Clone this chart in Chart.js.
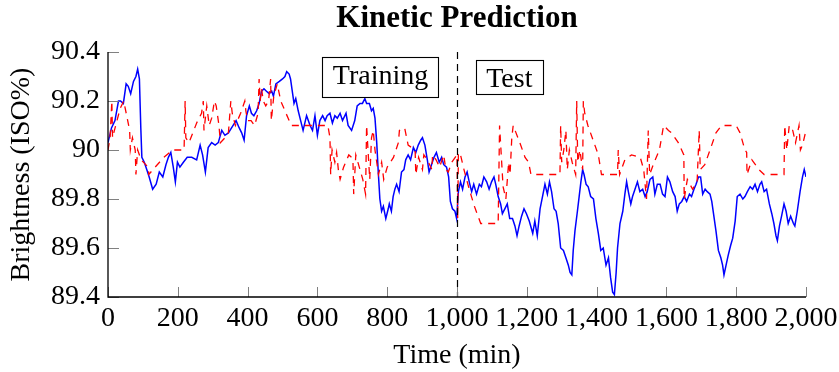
<!DOCTYPE html>
<html>
<head>
<meta charset="utf-8">
<title>Kinetic Prediction</title>
<script src="https://cdn.jsdelivr.net/npm/chart.js@4.4.1/dist/chart.umd.min.js"></script>
<style>
  html, body { margin: 0; padding: 0; background: #fff; }
  #chart-container { width: 839px; height: 372px; }
</style>
</head>
<body>
<div id="chart-container"><canvas id="mycanvas" width="839" height="372"></canvas></div>
<script>
// measured brightness (min, ISO%)
var measuredTime = [
  0, 10, 20, 30, 36, 44, 52, 58, 65, 73, 80, 85, 90, 94, 97, 104, 111, 118, 128, 138,
  147, 157, 166, 173, 180, 187, 193, 199, 206, 216, 227, 240, 254, 264, 271, 279, 287, 297, 307, 316,
  326, 335, 345, 354, 367, 376, 383, 390, 397, 405, 411, 418, 426, 433, 440, 447, 454, 462, 469, 474,
  481, 491, 500, 507, 512, 519, 523, 529, 533, 538, 545, 552, 559, 569, 579, 586, 593, 600, 607, 615,
  622, 628, 636, 643, 650, 657, 665, 672, 682, 688, 698, 707, 714, 722, 729, 736, 741, 749, 755, 760,
  765, 770, 774, 779, 784, 789, 796, 803, 806, 812, 817, 822, 827, 834, 841, 848, 853, 860, 867, 875,
  882, 889, 896, 901, 908, 915, 920, 927, 934, 941, 949, 956, 962, 970, 976, 981, 987, 994, 999, 1004,
  1010, 1016, 1023, 1029, 1035, 1042, 1048, 1056, 1064, 1070, 1077, 1085, 1092, 1099, 1106, 1111, 1118, 1125, 1130, 1137,
  1144, 1151, 1159, 1166, 1172, 1178, 1185, 1192, 1199, 1207, 1217, 1223, 1230, 1238, 1245, 1252, 1259, 1265, 1271, 1278,
  1284, 1290, 1297, 1305, 1312, 1319, 1324, 1329, 1333, 1338, 1345, 1350, 1355, 1360, 1364, 1370, 1376, 1383, 1391, 1398,
  1405, 1412, 1419, 1427, 1434, 1440, 1446, 1451, 1456, 1460, 1467, 1475, 1481, 1486, 1491, 1498, 1503, 1510, 1517, 1524,
  1532, 1539, 1545, 1553, 1561, 1567, 1574, 1582, 1589, 1596, 1603, 1610, 1618, 1625, 1631, 1637, 1644, 1651, 1658, 1666,
  1672, 1679, 1685, 1692, 1698, 1704, 1711, 1717, 1725, 1730, 1735, 1742, 1749, 1756, 1761, 1765, 1771, 1777, 1784, 1790,
  1797, 1803, 1811, 1819, 1825, 1832, 1840, 1847, 1854, 1861, 1868, 1873, 1880, 1887, 1895, 1902, 1908, 1914, 1918, 1924,
  1930, 1937, 1943, 1949, 1956, 1964, 1968, 1975, 1983, 1990, 1995, 2000
];
var measuredValue = [
  90.03, 90.09, 90.12, 90.2, 90.2, 90.19, 90.27, 90.26, 90.23, 90.28, 90.3, 90.33, 90.29, 90.09, 89.97, 89.95, 89.92, 89.89, 89.84, 89.86,
  89.91, 89.89, 89.94, 89.97, 89.99, 89.93, 89.87, 89.95, 89.93, 89.95, 89.97, 89.97, 89.96, 90.02, 89.98, 89.91, 90.01, 90.03, 90.02, 90.03,
  90.08, 90.06, 90.07, 90.09, 90.12, 90.09, 90.07, 90.04, 90.14, 90.18, 90.15, 90.14, 90.16, 90.19, 90.24, 90.25, 90.24, 90.23, 90.24, 90.22,
  90.27, 90.28, 90.29, 90.3, 90.32, 90.31, 90.29, 90.23, 90.19, 90.21, 90.16, 90.12, 90.08, 90.14, 90.1, 90.08, 90.14, 90.06, 90.12, 90.14,
  90.12, 90.14, 90.15, 90.11, 90.14, 90.13, 90.15, 90.12, 90.15, 90.1, 90.08, 90.12, 90.18, 90.19, 90.19, 90.21, 90.19, 90.19, 90.16, 90.17,
  90.13, 90.03, 89.92, 89.8, 89.75, 89.77, 89.72, 89.76, 89.78, 89.75, 89.81, 89.84, 89.86, 89.83, 89.91, 89.92, 89.96, 89.98, 89.96, 90.01,
  89.99, 90.02, 90.04, 90.05, 90.02, 89.96, 89.91, 89.94, 89.97, 89.99, 89.95, 89.97, 89.94, 89.93, 89.89, 89.79, 89.76, 89.75, 89.72, 89.83,
  89.87, 89.84, 89.89, 89.91, 89.87, 89.83, 89.86, 89.82, 89.86, 89.85, 89.89, 89.87, 89.84, 89.87, 89.89, 89.86, 89.81, 89.78, 89.74, 89.76,
  89.78, 89.72, 89.72, 89.69, 89.65, 89.69, 89.73, 89.76, 89.74, 89.71, 89.66, 89.71, 89.65, 89.76, 89.81, 89.86, 89.82, 89.87, 89.83, 89.76,
  89.75, 89.7, 89.6, 89.59, 89.56, 89.53, 89.5, 89.49, 89.59, 89.67, 89.75, 89.81, 89.87, 89.92, 89.9, 89.86, 89.85, 89.81, 89.8, 89.72,
  89.66, 89.59, 89.6, 89.53, 89.56, 89.48, 89.42, 89.41, 89.5, 89.6, 89.7, 89.75, 89.82, 89.87, 89.83, 89.78, 89.81, 89.84, 89.87, 89.83,
  89.84, 89.81, 89.83, 89.88, 89.89, 89.82, 89.86, 89.86, 89.82, 89.81, 89.89, 89.87, 89.83, 89.81, 89.75, 89.78, 89.79, 89.81, 89.79, 89.82,
  89.81, 89.84, 89.86, 89.89, 89.89, 89.82, 89.84, 89.83, 89.82, 89.79, 89.74, 89.67, 89.59, 89.56, 89.53, 89.49, 89.53, 89.57, 89.61, 89.64,
  89.71, 89.81, 89.82, 89.8, 89.81, 89.83, 89.85, 89.84, 89.86, 89.83, 89.86, 89.87, 89.83, 89.84, 89.78, 89.74, 89.7, 89.65, 89.63, 89.69,
  89.73, 89.78, 89.75, 89.7, 89.73, 89.7, 89.69, 89.75, 89.83, 89.89, 89.92, 89.89
];

// model prediction (min, ISO%)
var predTime = [
  0, 6, 11, 13, 22, 35, 45, 55, 62, 64, 70, 78, 80, 85, 95, 115, 117, 135, 160, 185,
  218, 221, 223, 232, 254, 268, 273, 275, 283, 290, 297, 305, 310, 318, 322, 335, 345, 352, 356, 365,
  380, 392, 395, 400, 410, 420, 430, 433, 436, 440, 445, 452, 460, 466, 468, 475, 485, 495, 510, 525,
  630, 636, 638, 642, 650, 655, 660, 665, 675, 690, 698, 702, 704, 710, 720, 730, 738, 741, 745, 750,
  755, 760, 765, 775, 784, 790, 800, 818, 832, 835, 850, 860, 880, 882, 890, 901, 905, 915, 928, 930,
  940, 950, 962, 968, 975, 985, 1000, 1002, 1004, 1010, 1020, 1035, 1050, 1068, 1118, 1122, 1126, 1132, 1140, 1148,
  1152, 1157, 1161, 1180, 1195, 1205, 1212, 1295, 1297, 1300, 1306, 1312, 1316, 1322, 1330, 1340, 1343, 1346, 1352, 1360,
  1362, 1366, 1375, 1390, 1405, 1414, 1460, 1462, 1466, 1481, 1500, 1525, 1535, 1543, 1548, 1552, 1565, 1580, 1592, 1606,
  1615, 1634, 1650, 1651, 1660, 1675, 1688, 1694, 1697, 1710, 1725, 1742, 1758, 1800, 1811, 1825, 1830, 1831, 1845, 1865,
  1880, 1937, 1939, 1945, 1952, 1962, 1970, 1980, 1984, 1990, 2000
];
var predValue = [
  90.0, 90.05, 90.2, 90.05, 90.1, 90.17, 90.2, 90.13, 90.08, 90.0, 90.05, 90.0, 89.9, 90.0, 89.96, 89.93, 89.9, 89.93, 89.97, 90.0,
  90.0, 90.2, 90.05, 90.03, 90.11, 90.15, 90.2, 90.08, 90.18, 90.1, 90.13, 90.2, 90.18, 90.1, 90.03, 90.05, 90.07, 90.2, 90.15, 90.1,
  90.15, 90.2, 90.16, 90.12, 90.12, 90.1, 90.15, 90.29, 90.2, 90.25, 90.2, 90.18, 90.2, 90.29, 90.12, 90.22, 90.27, 90.2, 90.15, 90.1,
  90.1, 90.05, 89.9, 90.0, 89.95, 89.99, 89.92, 89.88, 89.93, 89.98, 89.97, 89.95, 89.82, 89.98, 89.93, 89.88, 89.82, 90.1, 90.0, 89.88,
  90.05, 90.08, 90.0, 89.9, 89.95, 89.88, 89.93, 89.97, 90.03, 90.08, 90.09, 90.02, 90.0, 89.9, 89.97, 89.92, 89.98, 89.96, 89.92, 89.98,
  89.96, 89.93, 89.98, 89.92, 89.91, 89.95, 89.98, 89.72, 89.99, 89.98, 89.92, 89.84, 89.77, 89.7, 89.7, 90.1, 90.0, 89.85, 89.8, 89.95,
  89.9, 90.05, 90.1, 90.03, 89.97, 89.95, 89.9, 89.9, 90.1, 89.95, 90.0, 90.08, 89.92, 90.0, 89.95, 89.9, 90.2, 89.95, 90.0, 89.92,
  90.2, 90.15, 90.1, 90.04, 89.98, 89.9, 89.9, 90.0, 89.9, 89.96, 89.98, 89.97, 89.92, 89.8, 90.08, 89.9, 89.95, 90.0, 90.1, 90.08,
  90.07, 90.03, 89.98, 89.8, 89.88, 89.84, 89.87, 90.08, 89.92, 89.94, 90.0, 90.07, 90.1, 90.1, 90.07, 90.0, 89.99, 89.9, 89.96, 89.92,
  89.9, 89.9, 90.1, 90.0, 90.1, 90.08, 90.03, 90.1, 90.0, 90.02, 90.08
];

var xTicks = [0, 200, 400, 600, 800, 1000, 1200, 1400, 1600, 1800, 2000];
var yTicks = [89.4, 89.6, 89.8, 90.0, 90.2, 90.4];

var chartTitle = 'Kinetic Prediction';

// phase split and phase labels
var splitTime = 1000;
var phaseNames = ['Training', 'Test'];
var phaseCenterTime = [781, 1150];
var phaseCenterValue = 90.3;

var serif = '"Liberation Serif", "Times New Roman", serif';
Chart.defaults.font.family = serif;
Chart.defaults.font.size = 28;
Chart.defaults.color = '#000';

function toPoints(t, v) {
    var pts = [];
    for (var i = 0; i < t.length; i++) {
        pts.push({x: t[i], y: v[i]});
    }
    return pts;
}

// axis lines, inner ticks, split line, title and the two boxed labels
var decorations = {
    id: 'decorations',
    afterDatasetsDraw: function (chart) {
        var ctx = chart.ctx;
        var area = chart.chartArea;
        var xs = chart.scales.x;
        var ys = chart.scales.y;
        ctx.save();

        var sx = Math.round(xs.getPixelForValue(splitTime)) + 0.5;
        ctx.strokeStyle = '#000';
        ctx.lineWidth = 1.2;
        ctx.setLineDash([7, 5]);
        ctx.beginPath();
        ctx.moveTo(sx, area.top);
        ctx.lineTo(sx, area.bottom);
        ctx.stroke();
        ctx.setLineDash([]);

        ctx.strokeStyle = '#808080';
        ctx.lineWidth = 1;
        ctx.beginPath();
        xTicks.forEach(function (t) {
            var px = Math.round(xs.getPixelForValue(t)) + 0.5;
            ctx.moveTo(px, area.bottom);
            ctx.lineTo(px, area.bottom - 10);
        });
        yTicks.forEach(function (v) {
            var py = Math.round(ys.getPixelForValue(v)) + 0.5;
            ctx.moveTo(area.left, py);
            ctx.lineTo(area.left + 11, py);
        });
        ctx.stroke();

        ctx.strokeStyle = '#000';
        ctx.lineWidth = 1.3;
        ctx.beginPath();
        ctx.moveTo(area.left, area.top);
        ctx.lineTo(area.left, area.bottom);
        ctx.lineTo(area.right, area.bottom);
        ctx.stroke();

        // title centred over the plot area
        ctx.fillStyle = '#000';
        ctx.font = 'bold 31px ' + serif;
        ctx.textAlign = 'center';
        ctx.textBaseline = 'middle';
        ctx.fillText(chartTitle, (area.left + area.right) / 2, 19);

        ctx.font = '28px ' + serif;
        ctx.textBaseline = 'alphabetic';
        ctx.textAlign = 'left';
        for (var i = 0; i < phaseNames.length; i++) {
            var m = ctx.measureText(phaseNames[i]);
            var asc = m.actualBoundingBoxAscent;
            var desc = m.actualBoundingBoxDescent;
            var w = m.width + 21;
            var h = asc + desc + 16;
            var cx = xs.getPixelForValue(phaseCenterTime[i]);
            var cy = ys.getPixelForValue(phaseCenterValue);
            var bx = Math.round(cx - w / 2) + 0.5;
            var by = Math.round(cy - h / 2) + 0.5;
            ctx.fillStyle = '#fff';
            ctx.fillRect(bx, by, Math.round(w), Math.round(h));
            ctx.strokeStyle = '#000';
            ctx.lineWidth = 1.1;
            ctx.strokeRect(bx, by, Math.round(w), Math.round(h));
            ctx.fillStyle = '#000';
            ctx.fillText(phaseNames[i], cx - m.width / 2, by + 8 + asc);
        }
        ctx.restore();
    }
};

var ctx = document.getElementById('mycanvas');

var lineGraph = new Chart(ctx, {
    type: 'line',
    data: {
        datasets: [{
            label: 'Measured',
            data: toPoints(measuredTime, measuredValue),
            borderColor: 'rgb(0, 0, 255)',
            borderWidth: 1.5,
            pointRadius: 0,
            tension: 0,
            order: 2
        }, {
            label: 'Prediction',
            data: toPoints(predTime, predValue),
            borderColor: 'rgb(255, 0, 0)',
            borderWidth: 1.3,
            borderDash: [7, 6],
            pointRadius: 0,
            tension: 0,
            order: 1
        }]
    },
    options: {
        responsive: false,
        animation: false,
        events: [],
        layout: {
            padding: {left: 0, right: 33, top: 52, bottom: 0}
        },
        plugins: {
            legend: {display: false},
            tooltip: {enabled: false},
            title: {display: false}
        },
        scales: {
            x: {
                type: 'linear',
                min: 0,
                max: 2000,
                grid: {display: false, drawTicks: false},
                border: {display: false},
                afterBuildTicks: function (scale) {
                    scale.ticks = xTicks.map(function (t) { return {value: t}; });
                },
                afterFit: function (scale) {
                    scale.height = 75;
                    scale.paddingLeft = 0;
                    scale.paddingRight = 0;
                },
                ticks: {
                    padding: 5,
                    maxRotation: 0,
                    autoSkip: false,
                    callback: function (value) {
                        return Number(value).toLocaleString('en-US');
                    }
                },
                title: {
                    display: true,
                    text: 'Time (min)',
                    padding: {top: 0, bottom: 0}
                }
            },
            y: {
                min: 89.4,
                max: 90.4,
                grid: {display: false, drawTicks: false},
                border: {display: false},
                afterBuildTicks: function (scale) {
                    scale.ticks = yTicks.map(function (v) { return {value: v}; });
                },
                afterFit: function (scale) {
                    scale.width = 108;
                    scale.paddingTop = 0;
                    scale.paddingBottom = 0;
                },
                ticks: {
                    padding: 8,
                    autoSkip: false,
                    callback: function (value) {
                        return String(Math.round(value * 10) / 10);
                    }
                },
                title: {
                    display: true,
                    text: 'Brightness (ISO%)',
                    padding: {top: 5, bottom: 0}
                }
            }
        }
    },
    plugins: [decorations]
});
</script>
</body>
</html>
